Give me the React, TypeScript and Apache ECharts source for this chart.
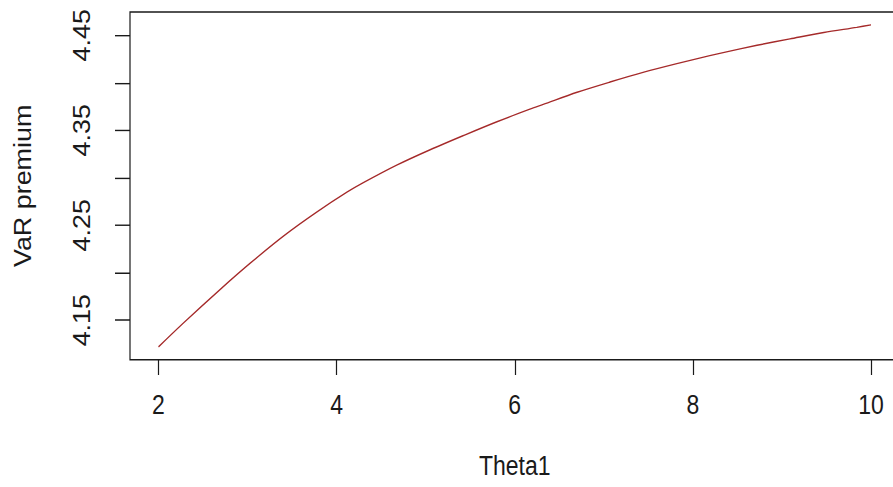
import React, { useEffect, useRef } from "react";
import * as echarts from "echarts";

const theta1: number[] = [2.0, 2.28, 2.7, 3.03, 3.41, 3.78, 4.12, 4.3, 4.68, 5.05, 5.43, 5.8, 6.17, 6.32, 6.7, 7.07, 7.45, 7.82, 8.19, 8.34, 8.72, 9.09, 9.47, 9.84, 10.0];
const varPremium: number[] = [4.1219, 4.147, 4.183, 4.21, 4.239, 4.264, 4.285, 4.2948, 4.3135, 4.3295, 4.3447, 4.359, 4.3722, 4.3772, 4.39, 4.4008, 4.4112, 4.4202, 4.4286, 4.4318, 4.4395, 4.4462, 4.453, 4.4584, 4.461];
const xTicks: number[] = [2, 4, 6, 8, 10];
const yTicks: number[] = [4.15, 4.2, 4.25, 4.3, 4.35, 4.4, 4.45];
const yLabels: number[] = [4.15, 4.25, 4.35, 4.45];

const font = "'Liberation Sans', Arial, sans-serif";
const STRETCH = 1.17;
const W = 900;
const H = 487 / STRETCH;

export default function App() {
  const ref = useRef<HTMLDivElement>(null);
  useEffect(() => {
    if (!ref.current) return;
    const chart = echarts.init(ref.current, undefined, { renderer: "svg" });
    const xmin = 2 - 0.04 * 8;
    const xmax = 10 + 0.04 * 8;
    const dmin = Math.min(...varPremium);
    const dmax = Math.max(...varPremium);
    const ext = (dmax - dmin) * 0.04;
    chart.setOption({
      animation: false,
      backgroundColor: "#ffffff",
      grid: {
        left: 130,
        top: 12 / STRETCH,
        bottom: H - 360 / STRETCH,
        right: W - 899.5,
        show: true,
        borderColor: "#1a1a1a",
        borderWidth: 1.2,
        backgroundColor: "transparent",
      },
      xAxis: {
        type: "value",
        min: xmin,
        max: xmax,
        name: "Theta1",
        nameLocation: "middle",
        nameGap: 79,
        nameTextStyle: { fontFamily: font, fontSize: 23, color: "#1a1a1a" },
        axisLine: { show: false },
        splitLine: { show: false },
        axisTick: {
          show: true,
          length: 13,
          customValues: xTicks,
          lineStyle: { color: "#1a1a1a", width: 1.2 },
        },
        axisLabel: {
          customValues: xTicks,
          margin: 27,
          fontFamily: font,
          fontSize: 23,
          color: "#1a1a1a",
        },
      },
      yAxis: {
        type: "value",
        min: dmin - ext,
        max: dmax + ext,
        name: "VaR premium",
        nameLocation: "middle",
        nameGap: 96,
        nameRotate: 90,
        nameTextStyle: { fontFamily: font, fontSize: 23, color: "#1a1a1a" },
        axisLine: { show: false },
        splitLine: { show: false },
        axisTick: {
          show: true,
          length: 15,
          customValues: yTicks,
          lineStyle: { color: "#1a1a1a", width: 1.2 },
        },
        axisLabel: {
          customValues: yLabels,
          rotate: 90,
          margin: 37,
          fontFamily: font,
          fontSize: 23,
          color: "#1a1a1a",
          formatter: (v: number) => v.toFixed(2),
        },
      },
      series: [
        {
          type: "line",
          data: theta1.map((t, i) => [t, varPremium[i]]),
          showSymbol: false,
          smooth: 0.3,
          lineStyle: { color: "#A52A2A", width: 1.2 },
        },
      ],
    });
    return () => chart.dispose();
  }, []);
  return (
    <div style={{ position: "absolute", left: 0, top: 0, width: 893, height: 487, overflow: "hidden", background: "#fff" }}>
      <div
        ref={ref}
        style={{ width: W, height: H, transform: `scaleY(${STRETCH})`, transformOrigin: "0 0" }}
      />
    </div>
  );
}
